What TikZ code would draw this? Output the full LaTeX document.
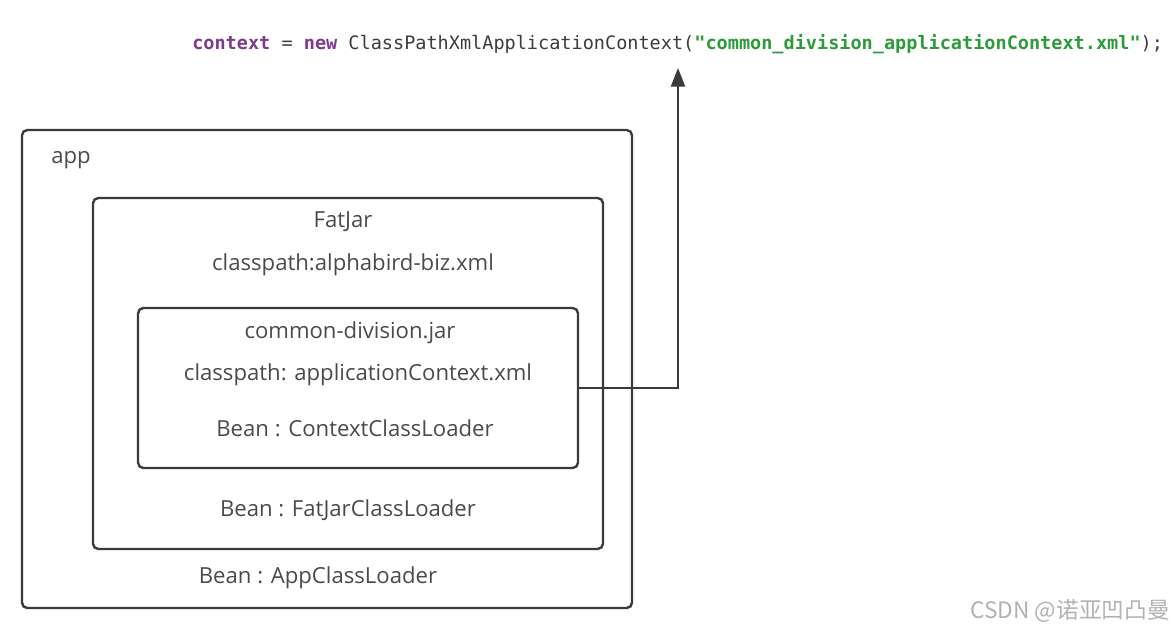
\documentclass[tikz,border=0pt]{standalone}
\usepackage{fontspec}
\setmainfont{Open Sans}
\setmonofont{DejaVu Sans Mono}
\newfontfamily\cjkfont{Noto Sans CJK SC}
\usetikzlibrary{arrows.meta}
\definecolor{boxline}{HTML}{3A3A3A}
\definecolor{labelgray}{HTML}{4A4A4A}
\definecolor{kwpurple}{HTML}{7D3B8E}
\definecolor{strgreen}{HTML}{2E9B3A}
\definecolor{codegray}{HTML}{3C3C3C}
\tikzset{
  box/.style={draw=boxline, line width=1.8pt, rounded corners=4pt, inner sep=0pt},
  lbl/.style={text=labelgray, font=\fontsize{16.6}{19}\selectfont, inner sep=0pt},
  link/.style={draw=boxline, line width=1.8pt, -{Triangle[length=14pt,width=10.5pt]}},
}

\begin{document}
\begin{tikzpicture}[x=0.75pt,y=-0.75pt]
\useasboundingbox (0,0) rectangle (1174,632);

\node[box, minimum width=457.5pt, minimum height=358.5pt] (app) at (327,369) {};
\node[box, minimum width=382.5pt, minimum height=263.25pt] (fatjar) at (348,373.5) {};
\node[box, minimum width=330pt, minimum height=120pt] (common) at (358,388) {};

\node[lbl, anchor=west] (appname) at (51,160) {app};
\node[lbl] (fatjarname) at (343,222) {FatJar};
\node[lbl] (fatjarxml) at (353,265) {classpath:alphabird-biz.xml};
\node[lbl] (commonname) at (350,333) {common-division.jar};
\node[lbl] (commonxml) at (358,375) {classpath: applicationContext.xml};
\node[lbl] (ctxloader) at (355,428) {Bean : ContextClassLoader};
\node[lbl] (fatloader) at (348,510) {Bean : FatJarClassLoader};
\node[lbl] (apploader) at (318,578) {Bean : AppClassLoader};

\node[anchor=west, inner sep=0pt, font=\ttfamily\fontsize{13.9}{16}\selectfont] (code) at (192,44)
  {{\color{kwpurple}\bfseries context}\textcolor{codegray}{\ =\ }{\color{kwpurple}\bfseries new}\textcolor{codegray}{\ ClassPathXmlApplicationContext(}{\color{strgreen}\bfseries "common\_division\_applicationContext.xml"}\textcolor{codegray}{);}};

\coordinate (tip) at (678,68);
\draw[link] (common.east) -| (tip);

\node[anchor=east, inner sep=0pt, text=black!30, font=\cjkfont\fontsize{17}{20}\selectfont] (mark) at (1170,611) {CSDN @诺亚凹凸曼};
\end{tikzpicture}
\end{document}
